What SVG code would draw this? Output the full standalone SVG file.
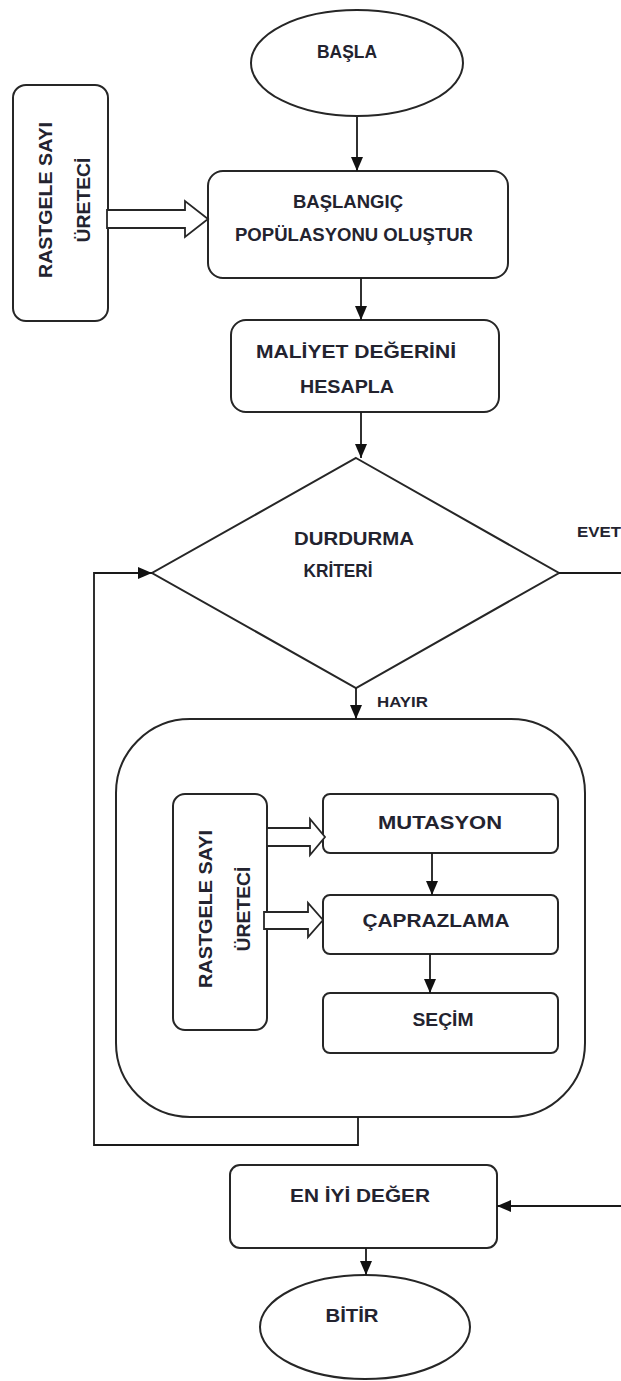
<svg xmlns="http://www.w3.org/2000/svg" width="621" height="1381" viewBox="0 0 621 1381">
<style>
.box{fill:#fff;stroke:#262626;stroke-width:2}
.ln{fill:none;stroke:#1a1a1a;stroke-width:1.8}
.hol{fill:#fff;stroke:#262626;stroke-width:1.8;stroke-linejoin:miter}
.t{font-family:"Liberation Sans",Arial,sans-serif;font-size:19px;font-weight:bold;fill:#23232f}
.s{font-family:"Liberation Sans",Arial,sans-serif;font-size:14px;font-weight:bold;fill:#23232f}
</style>
<defs>
<marker id="ah" viewBox="0 0 10 10" refX="10" refY="5" markerWidth="14" markerHeight="12" markerUnits="userSpaceOnUse" orient="auto" preserveAspectRatio="none">
<path d="M0,0 L10,5 L0,10 z" fill="#111"/>
</marker>
</defs>
<rect width="621" height="1381" fill="#fff"/>

<g id="start">
<ellipse class="box" cx="357" cy="63" rx="106" ry="53"/>
<text class="t" x="347" y="58" text-anchor="middle" textLength="60" lengthAdjust="spacingAndGlyphs">BAŞLA</text>
</g>

<g id="rng1">
<rect class="box" x="13" y="85" width="95" height="236" rx="13"/>
<text class="t" transform="translate(52,200) rotate(-90)" text-anchor="middle" textLength="156" lengthAdjust="spacingAndGlyphs">RASTGELE SAYI</text>
<text class="t" transform="translate(90,200) rotate(-90)" text-anchor="middle" textLength="85" lengthAdjust="spacingAndGlyphs">ÜRETECİ</text>
</g>

<g id="init">
<rect class="box" x="208" y="171" width="300" height="107" rx="15"/>
<text class="t" x="348" y="208" text-anchor="middle" textLength="110" lengthAdjust="spacingAndGlyphs">BAŞLANGIÇ</text>
<text class="t" x="354" y="241" text-anchor="middle" textLength="238" lengthAdjust="spacingAndGlyphs">POPÜLASYONU OLUŞTUR</text>
</g>

<g id="cost">
<rect class="box" x="231" y="320" width="268" height="92" rx="15"/>
<text class="t" x="356" y="358" text-anchor="middle" textLength="200" lengthAdjust="spacingAndGlyphs">MALİYET DEĞERİNİ</text>
<text class="t" x="347" y="393" text-anchor="middle" textLength="94" lengthAdjust="spacingAndGlyphs">HESAPLA</text>
</g>

<g id="decision">
<polygon class="box" points="356,458 559,573 356,688 152,573"/>
<text class="t" x="354" y="545" text-anchor="middle" textLength="120" lengthAdjust="spacingAndGlyphs">DURDURMA</text>
<text class="t" x="338" y="577" text-anchor="middle" textLength="69" lengthAdjust="spacingAndGlyphs">KRİTERİ</text>
</g>

<g id="loop">
<rect class="box" x="116" y="719" width="469" height="398" rx="74"/>
</g>

<g id="rng2">
<rect class="box" x="173" y="794" width="94" height="236" rx="12"/>
<text class="t" transform="translate(212,909) rotate(-90)" text-anchor="middle" textLength="158" lengthAdjust="spacingAndGlyphs">RASTGELE SAYI</text>
<text class="t" transform="translate(250,909) rotate(-90)" text-anchor="middle" textLength="85" lengthAdjust="spacingAndGlyphs">ÜRETECİ</text>
</g>

<g id="mutation">
<rect class="box" x="323" y="794" width="235" height="59" rx="7"/>
<text class="t" x="440" y="829" text-anchor="middle" textLength="124" lengthAdjust="spacingAndGlyphs">MUTASYON</text>
</g>

<g id="crossover">
<rect class="box" x="323" y="895" width="235" height="59" rx="7"/>
<text class="t" x="436" y="927" text-anchor="middle" textLength="147" lengthAdjust="spacingAndGlyphs">ÇAPRAZLAMA</text>
</g>

<g id="selection">
<rect class="box" x="323" y="993" width="235" height="60" rx="7"/>
<text class="t" x="443" y="1026" text-anchor="middle" textLength="61" lengthAdjust="spacingAndGlyphs">SEÇİM</text>
</g>

<g id="best">
<rect class="box" x="230" y="1165" width="267" height="83" rx="10"/>
<text class="t" x="360" y="1202" text-anchor="middle" textLength="140" lengthAdjust="spacingAndGlyphs">EN İYİ DEĞER</text>
</g>

<g id="end">
<ellipse class="box" cx="365" cy="1327" rx="105" ry="52"/>
<text class="t" x="352" y="1322" text-anchor="middle" textLength="53" lengthAdjust="spacingAndGlyphs">BİTİR</text>
</g>

<g id="connectors">
<path class="ln" d="M357,117 V171" marker-end="url(#ah)"/>
<path class="ln" d="M361,278 V320" marker-end="url(#ah)"/>
<path class="ln" d="M361,412 V458" marker-end="url(#ah)"/>
<path class="ln" d="M356,688 V719" marker-end="url(#ah)"/>
<path class="ln" d="M358,1117 V1145 H94 V573 H152" marker-end="url(#ah)"/>
<path class="ln" d="M559,573 H635 V1206 H497" marker-end="url(#ah)"/>
<path class="ln" d="M432,853 V895" marker-end="url(#ah)"/>
<path class="ln" d="M430,954 V993" marker-end="url(#ah)"/>
<path class="ln" d="M366,1248 V1275" marker-end="url(#ah)"/>
<polygon class="hol" points="107,210 185,210 185,201 208,219 185,237 185,228 107,228"/>
<polygon class="hol" points="267,828 310,828 310,819 325,837 310,855 310,846 267,846"/>
<polygon class="hol" points="264,912 308,912 308,903 323,920 308,937 308,929 264,929"/>
<text class="s" x="577" y="537" textLength="44" lengthAdjust="spacingAndGlyphs">EVET</text>
<text class="s" x="377" y="707" textLength="51" lengthAdjust="spacingAndGlyphs">HAYIR</text>
</g>
</svg>
